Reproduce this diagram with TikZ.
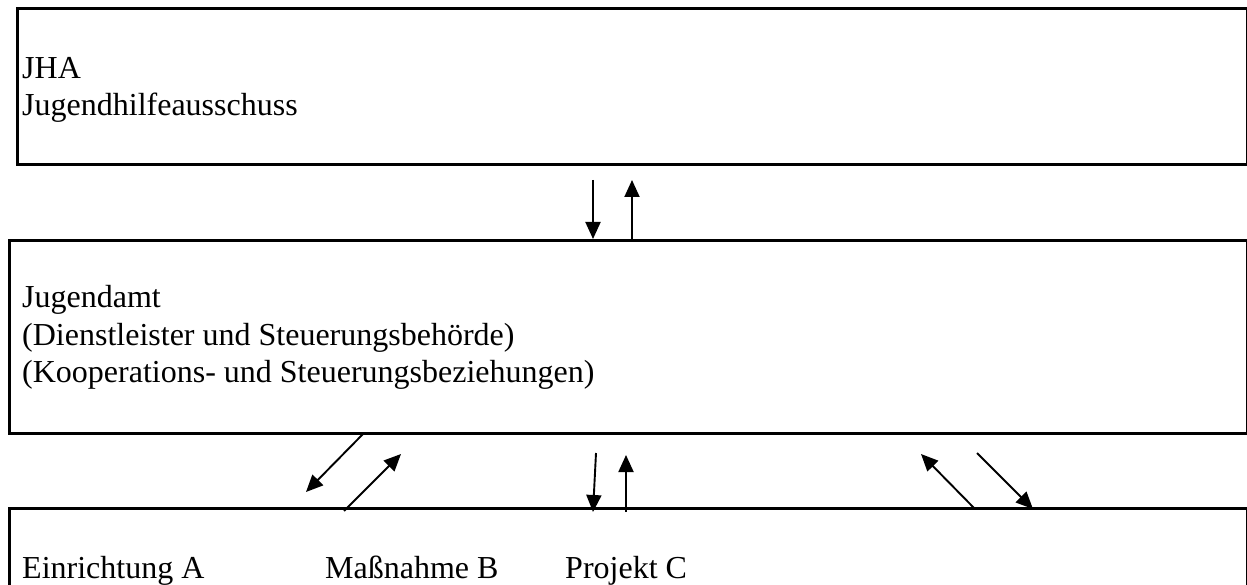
\documentclass[tikz,border=0pt]{standalone}
\usepackage{fontspec}
\setmainfont{Liberation Serif}
\usetikzlibrary{arrows.meta}
\begin{document}
\begin{tikzpicture}[x=1pt,y=-1pt,
  boxframe/.style={draw, line width=2.6pt, inner sep=0pt, anchor=north west},
  lbl/.style={anchor=base west, inner sep=0pt, font=\fontsize{32}{37}\selectfont},
  arr/.style={line width=1.9pt, -{Triangle[length=17pt,width=15pt]}}]
\useasboundingbox (0,0) rectangle (1247,585);
\clip (0,0) rectangle (1247,585);
% boxes
\node[boxframe, minimum width=1230pt, minimum height=156pt] (jha) at (16,7) {};
\node[boxframe, minimum width=1238pt, minimum height=193pt] (amt) at (8,239) {};
\node[boxframe, minimum width=1238pt, minimum height=120pt] (einr) at (8,507) {};
% texts
\node[lbl] (t1) at (22,79) {JHA};
\node[lbl] (t2) at (22,116) {Jugendhilfeausschuss};
\node[lbl] (t3) at (22,308) {Jugendamt};
\node[lbl] (t4) at (22,345) {(Dienstleister und Steuerungsbehörde)};
\node[lbl] (t5) at (22,382) {(Kooperations- und Steuerungsbeziehungen)};
\node[lbl] (t6) at (22,578) {Einrichtung A};
\node[lbl] (t7) at (325,578) {Maßnahme B};
\node[lbl] (t8) at (565,578) {Projekt C};
% arrow end points
\coordinate (p1a) at (593,180);
\coordinate (p1b) at (593,239);
\coordinate (p2a) at (632,239);
\coordinate (p2b) at (632,180);
\coordinate (p3a) at (363,434);
\coordinate (p3b) at (306,492);
\coordinate (p4a) at (344,511);
\coordinate (p4b) at (401,454);
\coordinate (p5a) at (596,453);
\coordinate (p5b) at (593,512);
\coordinate (p6a) at (626,512);
\coordinate (p6b) at (626,455);
\coordinate (p7a) at (975,509);
\coordinate (p7b) at (921,454);
\coordinate (p8a) at (977,453);
\coordinate (p8b) at (1033,509);
% arrows
\draw[arr] (p1a) -- (p1b);
\draw[arr] (p2a) -- (p2b);
\draw[arr] (p3a) -- (p3b);
\draw[arr] (p4a) -- (p4b);
\draw[arr] (p5a) -- (p5b);
\draw[arr] (p6a) -- (p6b);
\draw[arr] (p7a) -- (p7b);
\draw[arr] (p8a) -- (p8b);
\end{tikzpicture}
\end{document}
